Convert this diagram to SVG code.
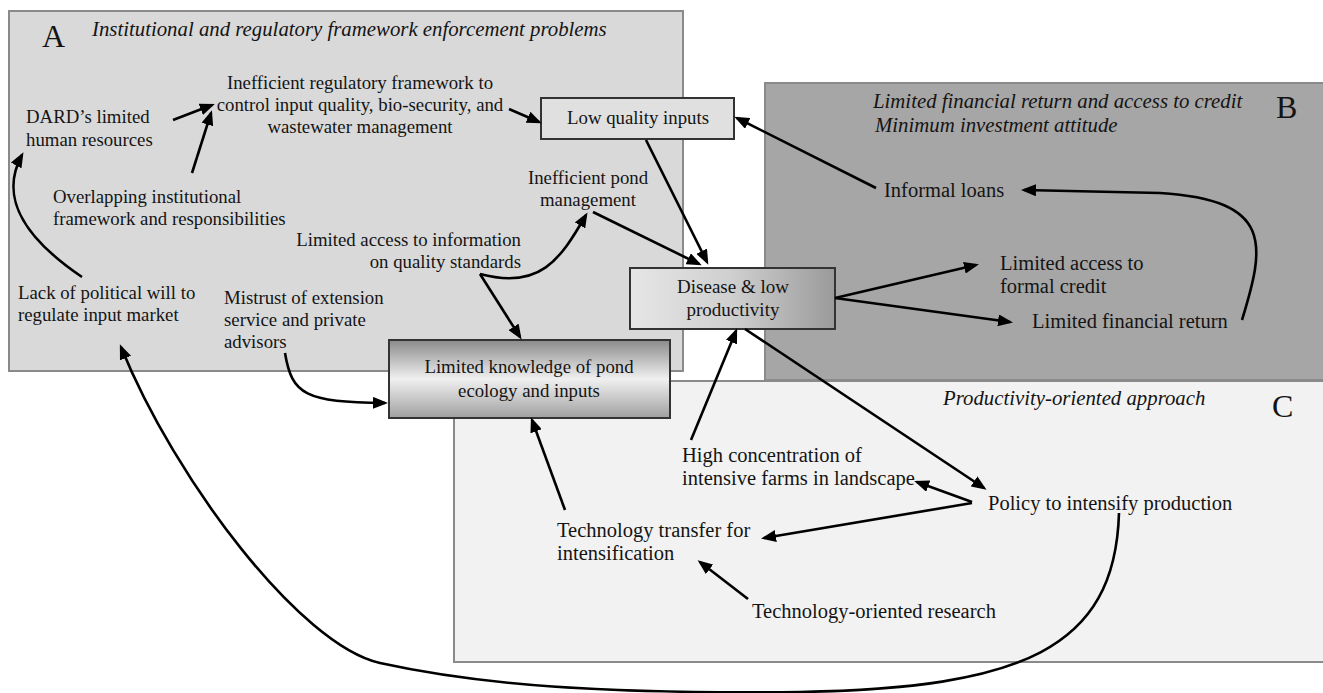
<svg xmlns="http://www.w3.org/2000/svg" width="1323" height="693" viewBox="0 0 1323 693">
<defs>
<style>
.t{font-family:"Liberation Serif","Times New Roman",serif;font-size:18.8px;fill:#141414}
.w{font-size:20.5px}
.i{font-style:italic;font-size:20.8px}
.c{text-anchor:middle}
.r{text-anchor:end}
.big{font-size:32px}
.reg{stroke:#8a8a8a;stroke-width:2}
.node{stroke:#333;stroke-width:2}
.cn path{fill:none;stroke:#000;stroke-width:2.6;marker-end:url(#ah)}
</style>
<marker id="ah" markerWidth="15" markerHeight="12" refX="12" refY="6" orient="auto" markerUnits="userSpaceOnUse"><path d="M0,0 L15,6 L0,12 z" fill="#000"/></marker>
<linearGradient id="gDis" x1="0" y1="0" x2="1" y2="0"><stop offset="0" stop-color="#e6e6e6"/><stop offset="0.5" stop-color="#cfcfcf"/><stop offset="1" stop-color="#9a9a9a"/></linearGradient>
<linearGradient id="gLK" x1="0" y1="0" x2="0" y2="1"><stop offset="0" stop-color="#8a8a8a"/><stop offset="0.5" stop-color="#f0f0f0"/><stop offset="1" stop-color="#a0a0a0"/></linearGradient>
</defs>
<rect width="1323" height="693" fill="#fff"/>
<g id="regionA">
<rect class="reg" x="9" y="11" width="674" height="360" fill="#d9d9d9"/>
<text class="t big" x="42" y="47">A</text>
<text class="t i" x="92" y="36">Institutional and regulatory framework enforcement problems</text>
</g>
<g id="regionB">
<rect class="reg" x="765" y="83" width="570" height="297" fill="#a6a6a6"/>
<text class="t i" x="873" y="108">Limited financial return and access to credit</text>
<text class="t i" x="875" y="132">Minimum investment attitude</text>
<text class="t big" x="1276" y="118">B</text>
</g>
<g id="regionC">
<rect class="reg" x="454" y="381" width="880" height="281" fill="#f2f2f2"/>
<text class="t i" x="943" y="405">Productivity-oriented approach</text>
<text class="t big" x="1272" y="417">C</text>
</g>
<g id="n-ineff-reg">
<text class="t c" x="360" y="89">Inefficient regulatory framework to</text>
<text class="t c" x="360" y="111">control input quality, bio-security, and</text>
<text class="t c" x="360" y="133">wastewater management</text>
</g>
<g id="n-dard">
<text class="t" x="26" y="123">DARD’s limited</text>
<text class="t" x="26" y="146">human resources</text>
</g>
<g id="n-overlap">
<text class="t" x="53" y="203">Overlapping institutional</text>
<text class="t" x="53" y="225">framework and responsibilities</text>
</g>
<g id="n-lack">
<text class="t" x="18" y="299">Lack of political will to</text>
<text class="t" x="18" y="321">regulate input market</text>
</g>
<g id="n-mistrust">
<text class="t" x="224" y="304">Mistrust of extension</text>
<text class="t" x="224" y="326">service and private</text>
<text class="t" x="224" y="348">advisors</text>
</g>
<g id="n-info">
<text class="t r" x="521" y="246">Limited access to information</text>
<text class="t r" x="521" y="268">on quality standards</text>
</g>
<g id="n-pond">
<text class="t c" x="588" y="184">Inefficient pond</text>
<text class="t c" x="588" y="206">management</text>
</g>
<g id="n-lowq">
<rect class="node" x="541" y="98" width="193" height="41" fill="#e0e0e0"/>
<text class="t c" x="638" y="124">Low quality inputs</text>
</g>
<g id="n-disease">
<rect class="node" x="630" y="268" width="205" height="61" fill="url(#gDis)"/>
<text class="t c" x="733" y="293" style="font-size:19px">Disease &amp; low</text>
<text class="t c" x="733" y="316" style="font-size:19px">productivity</text>
</g>
<g id="n-knowledge">
<rect class="node" x="389" y="340" width="281" height="78" fill="url(#gLK)"/>
<text class="t c" x="529" y="373">Limited knowledge of pond</text>
<text class="t c" x="529" y="397">ecology and inputs</text>
</g>
<g id="n-informal">
<text class="t w" x="884" y="197">Informal loans</text>
</g>
<g id="n-credit">
<text class="t w" x="1000" y="270">Limited access to</text>
<text class="t w" x="1000" y="293">formal credit</text>
</g>
<g id="n-return">
<text class="t w" x="1032" y="328">Limited financial return</text>
</g>
<g id="n-highconc">
<text class="t w" x="682" y="462">High concentration of</text>
<text class="t w" x="682" y="485">intensive farms in landscape</text>
</g>
<g id="n-policy">
<text class="t w" x="988" y="510">Policy to intensify production</text>
</g>
<g id="n-techtransfer">
<text class="t w" x="557" y="537">Technology transfer for</text>
<text class="t w" x="557" y="560">intensification</text>
</g>
<g id="n-techresearch">
<text class="t w" x="752" y="618">Technology-oriented research</text>
</g>
<g id="connectors" class="cn">
<path d="M173,120 L212,105"/>
<path d="M192,173 L211,113"/>
<path d="M509,109 L539,122"/>
<path d="M82,277 C20,235 0,195 22,155"/>
<path d="M646,140 L707,262"/>
<path d="M593,212 L699,264"/>
<path d="M480,274 C540,290 560,260 586,215"/>
<path d="M480,274 L520,337"/>
<path d="M285,353 C292,395 305,402 385,403"/>
<path d="M876,188 L737,118"/>
<path d="M835,298 L976,265"/>
<path d="M835,298 L1010,322"/>
<path d="M1242,320 C1265,245 1274,200 1160,193 L1024,190"/>
<path d="M691,440 L736,331"/>
<path d="M745,329 L984,488"/>
<path d="M972,502 L917,482"/>
<path d="M972,503 L764,538"/>
<path d="M565,510 L532,420"/>
<path d="M748,599 L700,562"/>
<path d="M1119,513 C1115,650 1020,688 800,692 C600,694 480,685 380,663 C300,645 175,480 121,347"/>
</g>
</svg>
